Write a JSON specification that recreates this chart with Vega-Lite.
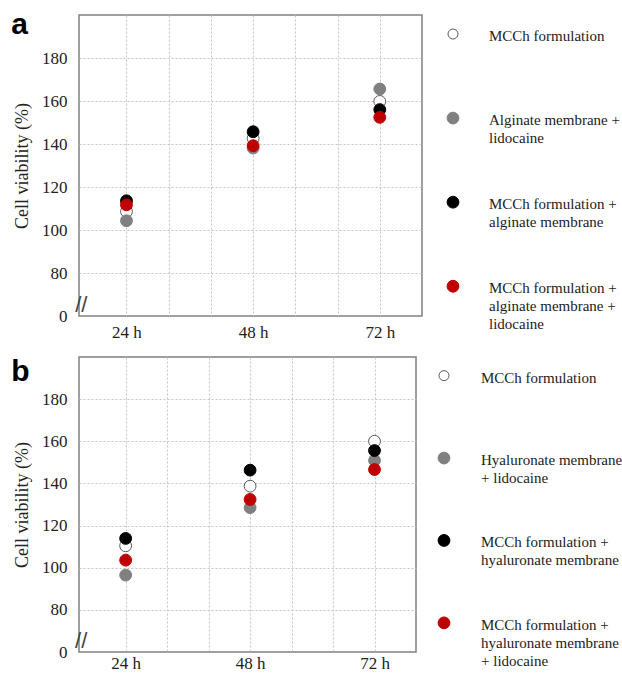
{
  "$schema": "https://vega.github.io/schema/vega-lite/v6.json",
  "padding": {"left": 10, "top": 9, "right": 0, "bottom": 0},
  "background": "white",
  "config": {
    "view": {"stroke": "#808080", "strokeWidth": 1.5},
    "font": "Liberation Serif",
    "axis": {
      "gridColor": "#c4c4c4",
      "gridDash": [2, 2],
      "gridWidth": 1,
      "labelColor": "#222222",
      "titleColor": "#222222",
      "labelFont": "Liberation Serif",
      "titleFont": "Liberation Serif"
    }
  },
  "datasets": {
    "pts": [
      {"panel": "a", "hours": 24, "series": "s1", "viability": 108.6},
      {"panel": "a", "hours": 24, "series": "s2", "viability": 104.3},
      {"panel": "a", "hours": 24, "series": "s3", "viability": 113.6},
      {"panel": "a", "hours": 24, "series": "s4", "viability": 111.7},
      {"panel": "a", "hours": 48, "series": "s1", "viability": 142.6},
      {"panel": "a", "hours": 48, "series": "s2", "viability": 138.1},
      {"panel": "a", "hours": 48, "series": "s3", "viability": 145.7},
      {"panel": "a", "hours": 48, "series": "s4", "viability": 139.2},
      {"panel": "a", "hours": 72, "series": "s1", "viability": 159.8},
      {"panel": "a", "hours": 72, "series": "s2", "viability": 165.6},
      {"panel": "a", "hours": 72, "series": "s3", "viability": 156.0},
      {"panel": "a", "hours": 72, "series": "s4", "viability": 152.4},
      {"panel": "b", "hours": 24, "series": "s1", "viability": 110.4},
      {"panel": "b", "hours": 24, "series": "s2", "viability": 96.5},
      {"panel": "b", "hours": 24, "series": "s3", "viability": 113.9},
      {"panel": "b", "hours": 24, "series": "s4", "viability": 103.6},
      {"panel": "b", "hours": 48, "series": "s1", "viability": 138.7},
      {"panel": "b", "hours": 48, "series": "s2", "viability": 128.5},
      {"panel": "b", "hours": 48, "series": "s3", "viability": 146.3},
      {"panel": "b", "hours": 48, "series": "s4", "viability": 132.4},
      {"panel": "b", "hours": 72, "series": "s1", "viability": 160.0},
      {"panel": "b", "hours": 72, "series": "s2", "viability": 150.9},
      {"panel": "b", "hours": 72, "series": "s3", "viability": 155.6},
      {"panel": "b", "hours": 72, "series": "s4", "viability": 146.6}
    ],
    "leg": [
      {"panel": "a", "order": 1, "series": "s1", "label": "MCCh formulation"},
      {"panel": "a", "order": 2, "series": "s2", "label": "Alginate membrane +\nlidocaine"},
      {"panel": "a", "order": 3, "series": "s3", "label": "MCCh formulation +\nalginate membrane"},
      {"panel": "a", "order": 4, "series": "s4", "label": "MCCh formulation +\nalginate membrane +\nlidocaine"},
      {"panel": "b", "order": 1, "series": "s1", "label": "MCCh formulation"},
      {"panel": "b", "order": 2, "series": "s2", "label": "Hyaluronate membrane\n+ lidocaine"},
      {"panel": "b", "order": 3, "series": "s3", "label": "MCCh formulation +\nhyaluronate membrane"},
      {"panel": "b", "order": 4, "series": "s4", "label": "MCCh formulation +\nhyaluronate membrane\n+ lidocaine"}
    ]
  },
  "spacing": 15,
  "vconcat": [
    {
      "spacing": 22,
      "hconcat": [
        {
          "width": 343,
          "height": 301,
          "layer": [
            {
              "data": {"name": "pts"},
              "transform": [{"filter": "datum.panel == 'a'"}],
              "mark": {"type": "circle", "size": 140, "opacity": 1, "strokeWidth": 1},
              "encoding": {
                "x": {"field": "hours", "type": "quantitative", "scale": {"domain": [16, 80]},
                  "axis": {"values": [24, 32, 40, 48, 56, 64, 72], "labelExpr": "datum.value % 24 == 0 ? datum.value + ' h' : ''", "title": null, "domain": false, "ticks": false, "tickSize": 0, "labelPadding": 8, "labelFontSize": 17, "grid": true}},
                "y": {"field": "viability", "type": "quantitative", "scale": {"domain": [60, 200]},
                  "axis": {"values": [60, 80, 100, 120, 140, 160, 180], "labelExpr": "datum.value == 60 ? '0' : datum.label", "title": "Cell viability (%)", "titleFontSize": 18, "titleFontWeight": "normal", "titlePadding": 10, "domain": false, "ticks": false, "tickSize": 0, "labelPadding": 12, "labelFontSize": 17, "grid": true, "gridOpacity": {"condition": {"test": "datum.value == 60", "value": 0}, "value": 1}}},
                "fill": {"field": "series", "type": "nominal", "scale": {"domain": ["s1", "s2", "s3", "s4"], "range": ["#ffffff", "#808080", "#000000", "#c00000"]}, "legend": null},
                "stroke": {"field": "series", "type": "nominal", "scale": {"domain": ["s1", "s2", "s3", "s4"], "range": ["#5a5a5a", "#808080", "#000000", "#c00000"]}, "legend": null}
              }
            },
            {
              "data": {"values": [{}]},
              "mark": {"type": "text", "text": "//", "fontSize": 22, "font": "Liberation Sans", "dx": -3, "align": "center", "baseline": "middle", "color": "#444444"},
              "encoding": {
                "x": {"datum": 16, "type": "quantitative"},
                "y": {"datum": 65, "type": "quantitative"}
              }
            },
            {
              "data": {"values": [{}]},
              "mark": {"type": "text", "text": "a", "fontSize": 30, "font": "Liberation Sans", "fontWeight": "bold", "dx": -73, "dy": 19, "align": "left", "baseline": "alphabetic", "color": "#000000"},
              "encoding": {
                "x": {"datum": 16, "type": "quantitative"},
                "y": {"datum": 200, "type": "quantitative"}
              }
            }
          ]
        },
        {
          "width": 170,
          "height": 301,
          "view": {"stroke": null},
          "data": {"name": "leg"},
          "transform": [{"filter": "datum.panel == 'a'"}],
          "encoding": {
            "y": {"field": "order", "type": "ordinal", "scale": {"type": "point", "padding": 0.29, "align": 0.39}, "axis": null},
            "x": {"datum": 8, "type": "quantitative", "scale": {"domain": [0, 170]}, "axis": null}
          },
          "layer": [
            {
              "mark": {"type": "circle", "opacity": 1, "strokeWidth": 1},
              "encoding": {
                "fill": {"field": "series", "type": "nominal", "legend": null},
                "stroke": {"field": "series", "type": "nominal", "legend": null},
                "size": {"condition": {"test": "datum.series == 's1'", "value": 100}, "value": 140}
              }
            },
            {
              "mark": {"type": "text", "align": "left", "baseline": "middle", "dx": 36, "dy": 2, "fontSize": 15, "lineBreak": "\n", "lineHeight": 18, "color": "#222222", "font": "Liberation Serif"},
              "encoding": {"text": {"field": "label", "type": "nominal"}}
            }
          ]
        }
      ]
    },
    {
      "spacing": 19,
      "hconcat": [
        {
          "width": 337,
          "height": 295,
          "layer": [
            {
              "data": {"name": "pts"},
              "transform": [{"filter": "datum.panel == 'b'"}],
              "mark": {"type": "circle", "size": 140, "opacity": 1, "strokeWidth": 1},
              "encoding": {
                "x": {"field": "hours", "type": "quantitative", "scale": {"domain": [16, 80]},
                  "axis": {"values": [24, 32, 40, 48, 56, 64, 72], "labelExpr": "datum.value % 24 == 0 ? datum.value + ' h' : ''", "title": null, "domain": false, "ticks": false, "tickSize": 0, "labelPadding": 3, "labelFontSize": 17, "grid": true}},
                "y": {"field": "viability", "type": "quantitative", "scale": {"domain": [60, 200]},
                  "axis": {"values": [60, 80, 100, 120, 140, 160, 180], "labelExpr": "datum.value == 60 ? '0' : datum.label", "title": "Cell viability (%)", "titleFontSize": 18, "titleFontWeight": "normal", "titlePadding": 10, "domain": false, "ticks": false, "tickSize": 0, "labelPadding": 12, "labelFontSize": 17, "grid": true, "gridOpacity": {"condition": {"test": "datum.value == 60", "value": 0}, "value": 1}}},
                "fill": {"field": "series", "type": "nominal", "legend": null},
                "stroke": {"field": "series", "type": "nominal", "legend": null}
              }
            },
            {
              "data": {"values": [{}]},
              "mark": {"type": "text", "text": "//", "fontSize": 22, "font": "Liberation Sans", "dx": -3, "align": "center", "baseline": "middle", "color": "#444444"},
              "encoding": {
                "x": {"datum": 16, "type": "quantitative"},
                "y": {"datum": 65, "type": "quantitative"}
              }
            },
            {
              "data": {"values": [{}]},
              "mark": {"type": "text", "text": "b", "fontSize": 30, "font": "Liberation Sans", "fontWeight": "bold", "dx": -73, "dy": 24, "align": "left", "baseline": "alphabetic", "color": "#000000"},
              "encoding": {
                "x": {"datum": 16, "type": "quantitative"},
                "y": {"datum": 200, "type": "quantitative"}
              }
            }
          ]
        },
        {
          "width": 170,
          "height": 295,
          "view": {"stroke": null},
          "data": {"name": "leg"},
          "transform": [{"filter": "datum.panel == 'b'"}],
          "encoding": {
            "y": {"field": "order", "type": "ordinal", "scale": {"type": "point", "padding": 0.29, "align": 0.39}, "axis": null},
            "x": {"datum": 8, "type": "quantitative", "scale": {"domain": [0, 170]}, "axis": null}
          },
          "layer": [
            {
              "mark": {"type": "circle", "opacity": 1, "strokeWidth": 1},
              "encoding": {
                "fill": {"field": "series", "type": "nominal", "legend": null},
                "stroke": {"field": "series", "type": "nominal", "legend": null},
                "size": {"condition": {"test": "datum.series == 's1'", "value": 100}, "value": 140}
              }
            },
            {
              "mark": {"type": "text", "align": "left", "baseline": "middle", "dx": 37, "dy": 2, "fontSize": 15, "lineBreak": "\n", "lineHeight": 18, "color": "#222222", "font": "Liberation Serif"},
              "encoding": {"text": {"field": "label", "type": "nominal"}}
            }
          ]
        }
      ]
    }
  ]
}
